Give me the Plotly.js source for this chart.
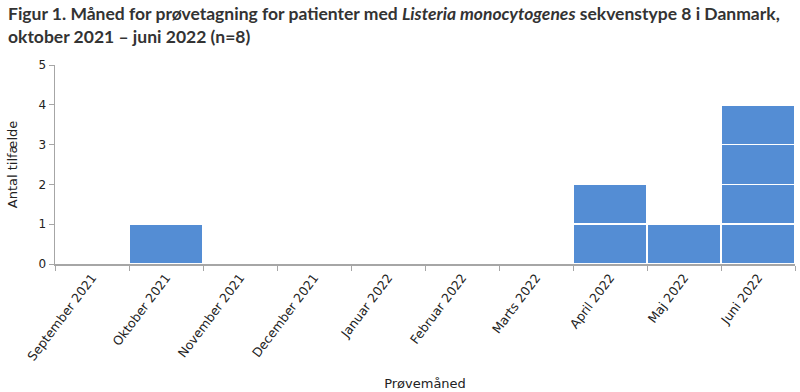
<!DOCTYPE html>
<html><head><meta charset="utf-8">
<script src="https://cdn.plot.ly/plotly-3.0.1.min.js"></script>
<style>body{margin:0}#c{width:800px;height:392px}</style>
</head><body><div id="c"></div>
<script>
const months = ["September 2021","Oktober 2021","November 2021","December 2021","Januar 2022","Februar 2022","Marts 2022","April 2022","Maj 2022","Juni 2022"];
const cases = [0,1,0,0,0,0,0,2,1,4];
const yTicks = [0,1,2,3,4,5];

const maxCount = Math.max(...cases);
const traces = [];
for (let k = 1; k <= maxCount; k++) {
  traces.push({
    type: "bar",
    x: months,
    y: cases.map(c => c >= k ? 1 : 0),
    marker: {color: "#548dd4", line: {color: "#ffffff", width: 1.5}},
    hoverinfo: "skip",
    showlegend: false
  });
}
const font = "'DejaVu Sans', sans-serif";
const layout = {
  width: 800, height: 392,
  margin: {l: 55, r: 5, t: 65, b: 128},
  barmode: "stack", bargap: 0,
  paper_bgcolor: "#fff", plot_bgcolor: "#fff",
  font: {family: font, color: "#222", size: 12},
  title: {text: "<b>Figur 1. Måned for prøvetagning for patienter med <i>Listeria monocytogenes</i> sekvenstype 8 i Danmark,<br>oktober 2021 – juni 2022 (n=8)</b>",
          x: 0.01, xanchor: "left", y: 0.948, yanchor: "top", font: {size: 17.5, color: "#333", family: "Lato, sans-serif"}},
  xaxis: {type: "category", showline: true, linecolor: "#a6a6a6", linewidth: 1.5, ticks: "outside", tickson: "boundaries",
          ticklen: 5, tickcolor: "#a6a6a6", tickangle: -53, tickfont: {size: 12.5, color: "#222"},
          title: {text: "Prøvemåned", font: {size: 13, color: "#222"}, standoff: 16}, showgrid: false},
  yaxis: {range: [0, 5], tickvals: yTicks, showline: true, linecolor: "#a6a6a6", linewidth: 1.5, ticks: "outside", ticklen: 5,
          tickcolor: "#a6a6a6", showgrid: false, zeroline: false, tickfont: {size: 12, color: "#222"},
          title: {text: "Antal tilfælde", font: {size: 13, color: "#222"}, standoff: 18}}
};
Plotly.newPlot("c", traces, layout, {displayModeBar: false, staticPlot: true});
</script></body></html>
